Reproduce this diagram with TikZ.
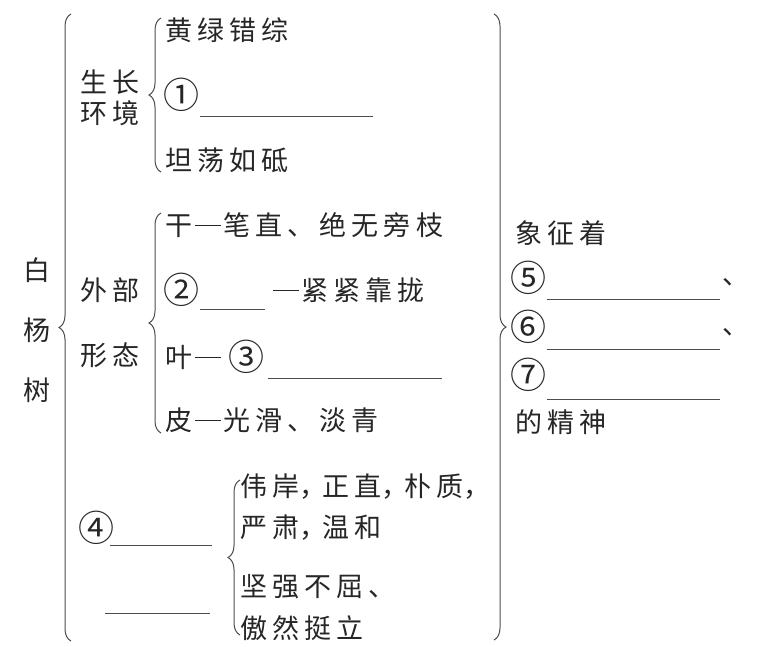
\documentclass[tikz,border=0pt]{standalone}
\usepackage{fontspec}
\newfontfamily\cjk{Noto Sans CJK SC}[LetterSpace=19]
\newfontfamily\cjknum{Noto Sans CJK SC}
\newcommand\dash{\makebox[1.15em][c]{\rule[0.34em]{0.95em}{1pt}}}
\newcommand\cm{\makebox[0.85em][l]{，}}
\usetikzlibrary{decorations.pathreplacing}

\begin{document}
\begin{tikzpicture}[x=1pt,y=-1pt,
  txt/.style={inner sep=0pt,text=black!85,font=\cjk\fontsize{27}{31}\selectfont},
  num/.style={inner sep=0pt,text=black!85,font=\cjknum\fontsize{36}{40}\selectfont},
  item/.style={txt,anchor=west},
  brc/.style={decorate,decoration={brace,amplitude=12pt},line width=1pt,draw=black!70},
  blank/.style={line width=0.9pt,draw=black!70}]
\useasboundingbox (0,0) rectangle (765,646);
% root: bai yang shu
\node[txt] (bai)  at (37,270) {白};
\node[txt] (yang) at (37,330) {杨};
\node[txt] (shu)  at (37,390) {树};
% growth environment
\node[txt] (grow1) at (110,82)  {生长};
\node[txt] (grow2) at (110,113) {环境};
\node[item] (g1) at (165,30)  {黄绿错综};
\node[num]  (c1) at (181,95)  {①};
\node[item] (g3) at (165,160) {坦荡如砥};
% outer form
\node[txt] (form1) at (110,290) {外部};
\node[txt] (form2) at (110,355) {形态};
\node[item] (f1) at (165,225) {干\dash 笔直、绝无旁枝};
\node[num]  (c2) at (181,290) {②};
\node[item] (f2) at (270,290) {\dash 紧紧靠拢};
\node[item] (f3) at (165,357) {叶\dash};
\node[num]  (c3) at (246,357) {③};
\node[item] (f4) at (165,420) {皮\dash 光滑、淡青};
% character
\node[num]  (c4) at (96,528)  {④};
\node[item] (k1) at (240,487) {伟岸\cm 正直\cm 朴质\cm};
\node[item] (k2) at (240,528) {严肃\cm 温和};
\node[item] (k3) at (240,587) {坚强不屈、};
\node[item] (k4) at (240,628) {傲然挺立};
% symbol of
\node[item] (s0) at (515,233) {象征着};
\node[num]  (c5) at (528,278) {⑤};
\node[num]  (c6) at (528,327) {⑥};
\node[num]  (c7) at (528,375) {⑦};
\node[item] (d5) at (722,282) {、};
\node[item] (d6) at (722,332) {、};
\node[item] (s4) at (515,422) {的精神};
% blanks
\coordinate (u1a) at (200,116); \coordinate (u1b) at (373,116);
\coordinate (u2a) at (200,309); \coordinate (u2b) at (265,309);
\coordinate (u3a) at (268,378); \coordinate (u3b) at (442,378);
\coordinate (u4a) at (110,545); \coordinate (u4b) at (212,545);
\coordinate (u8a) at (105,613); \coordinate (u8b) at (210,613);
\coordinate (u5a) at (547,299); \coordinate (u5b) at (720,299);
\coordinate (u6a) at (547,349); \coordinate (u6b) at (720,349);
\coordinate (u7a) at (547,399); \coordinate (u7b) at (720,399);
\foreach \u in {1,...,8}
  \draw[blank] (u\u a) -- (u\u b);
% braces
\coordinate (b1s) at (71,641); \coordinate (b1e) at (71,14);
\coordinate (b2s) at (161,172); \coordinate (b2e) at (161,18);
\coordinate (b3s) at (161,433); \coordinate (b3e) at (161,213);
\coordinate (b4s) at (240,635); \coordinate (b4e) at (240,480);
\coordinate (b5s) at (494,14);  \coordinate (b5e) at (494,640);
\draw[brc] (b1s) -- (b1e);
\draw[brc] (b2s) -- (b2e);
\draw[brc] (b3s) -- (b3e);
\draw[brc] (b4s) -- (b4e);
\draw[brc] (b5s) -- (b5e);
\end{tikzpicture}
\end{document}
